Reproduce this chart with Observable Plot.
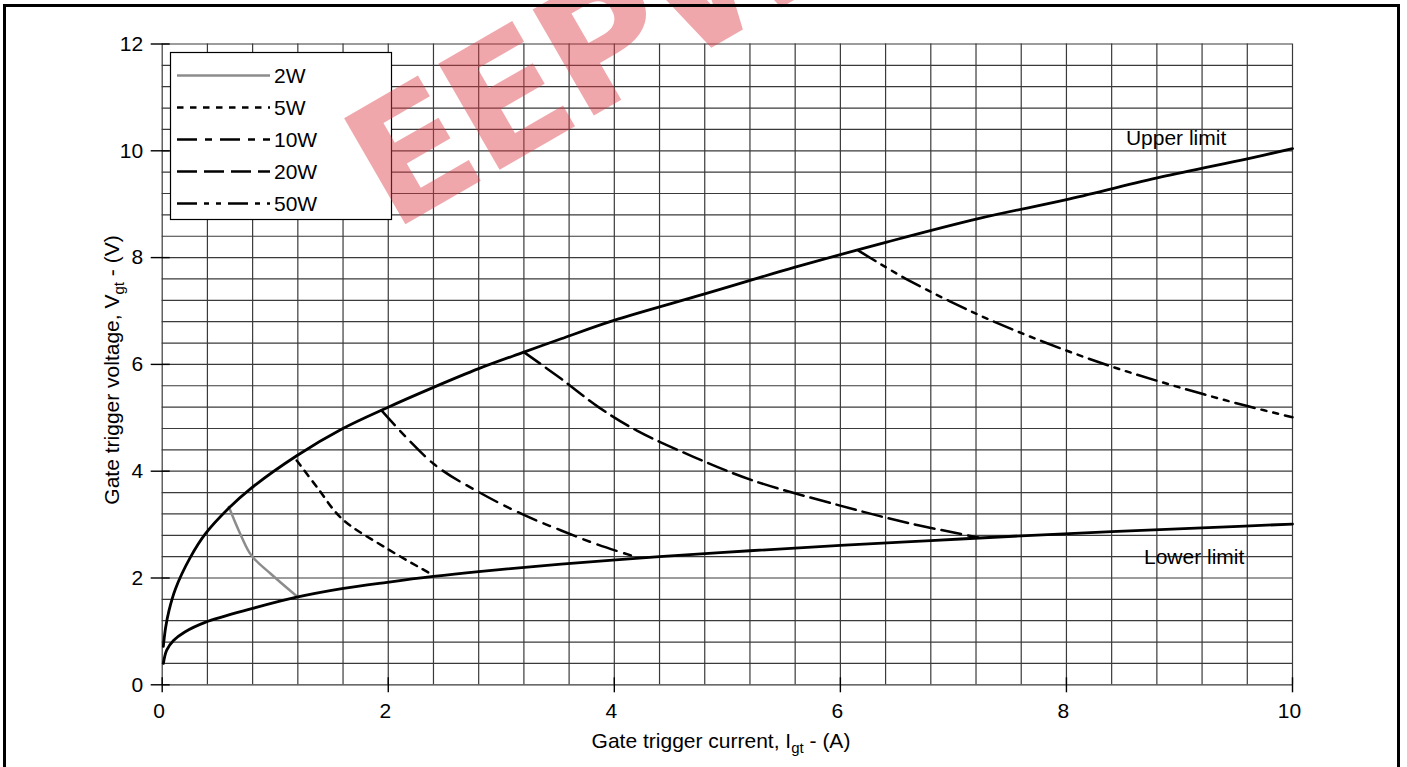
<!DOCTYPE html>
<html>
<head>
<meta charset="utf-8">
<script src="https://cdn.jsdelivr.net/npm/d3@7"></script>
<script src="https://cdn.jsdelivr.net/npm/@observablehq/plot@0.6"></script>
<style>
  body { margin: 0; background: #fff; }
  #wrap { position: relative; width: 1407px; height: 767px; overflow: hidden; background: #fff; }
  #frame { position: absolute; left: 2.7px; top: 4px; width: 1397.3px; height: 820px;
           border: 3.4px solid #000; border-bottom: none; box-sizing: border-box; pointer-events: none; }
  svg { display: block; }
</style>
</head>
<body>
<div id="wrap"><div id="frame"></div></div>
<script>
// ---------- data ----------
const currentTicks = [0, 2, 4, 6, 8, 10];
const voltageTicks = [0, 2, 4, 6, 8, 10, 12];
const currentGrid = d3.range(0, 10.0001, 0.4);
const voltageGrid = d3.range(0, 12.0001, 0.4);

// limit curves: gate trigger current (A) / voltage (V)
const upperI = [0.01, 0.03, 0.06, 0.118, 0.25, 0.383, 0.59, 0.78, 1.19, 1.59, 1.99, 2.40, 2.80, 3.20, 3.53, 3.99, 4.80, 5.60, 6.41, 7.22, 8.03, 8.84, 9.60, 10.0];
const upperV = [0.72, 1.07, 1.39, 1.80, 2.39, 2.83, 3.31, 3.67, 4.29, 4.79, 5.19, 5.57, 5.92, 6.23, 6.48, 6.82, 7.32, 7.82, 8.29, 8.73, 9.10, 9.51, 9.85, 10.04];
const lowerI = [0.01, 0.04, 0.10, 0.20, 0.38, 0.80, 1.19, 1.59, 1.99, 2.40, 2.80, 3.53, 4.40, 5.20, 6.00, 6.80, 7.60, 8.40, 9.20, 10.0];
const lowerV = [0.40, 0.65, 0.83, 0.99, 1.17, 1.43, 1.64, 1.80, 1.92, 2.03, 2.12, 2.26, 2.40, 2.51, 2.61, 2.70, 2.79, 2.87, 2.94, 3.01];

// power curves
const series = ["2W", "5W", "10W", "20W", "50W"];
const i2W  = [0.59, 0.69, 0.79, 0.96, 1.19];
const v2W  = [3.33, 2.83, 2.42, 2.08, 1.66];
const i5W  = [1.19, 1.37, 1.59, 1.99, 2.40];
const v5W  = [4.20, 3.70, 3.11, 2.55, 2.05];
const i10W = [1.94, 2.40, 2.80, 3.20, 3.53, 3.86, 4.20];
const v10W = [5.14, 4.14, 3.61, 3.18, 2.89, 2.62, 2.39];
const i20W = [3.20, 3.53, 3.86, 4.20, 4.70, 5.22, 5.99, 6.60, 7.22];
const v20W = [6.23, 5.73, 5.20, 4.76, 4.27, 3.83, 3.36, 3.03, 2.76];
const i50W = [6.16, 6.60, 7.20, 7.80, 8.40, 9.00, 9.60, 10.0];
const v50W = [8.13, 7.58, 6.95, 6.42, 5.96, 5.57, 5.22, 5.01];

const limitLabels = ["Upper limit", "Lower limit"];
const limitLabelI = [8.97, 9.13];
const limitLabelV = [10.23, 2.39];

// ---------- styles ----------
const seriesI = [i2W, i5W, i10W, i20W, i50W];
const seriesV = [v2W, v5W, v10W, v20W, v50W];
const seriesStroke = ["#8c8c8c", "#000", "#000", "#000", "#000"];
const seriesDash = [null, "6.5,6.5", "20,8,7,8", "20,7", "20,7,5,7,5,7"];
const FONT = "'Liberation Sans', Arial, Helvetica, sans-serif";

const toRows = (I, V) => I.map((x, j) => ({I: x, V: V[j]}));
const upperRows = toRows(upperI, upperV);
const lowerRows = toRows(lowerI, lowerV);
const labelRows = limitLabels.map((t, k) => ({t, I: limitLabelI[k], V: limitLabelV[k]}));

const powerMarks = series.map((s, k) =>
  Plot.line(toRows(seriesI[k], seriesV[k]), {
    x: "I", y: "V", curve: "catmull-rom",
    stroke: seriesStroke[k], strokeWidth: 2.5,
    strokeDasharray: seriesDash[k] ?? undefined
  })
);

const chart = Plot.plot({
  width: 1407, height: 767,
  marginLeft: 161.7, marginRight: 115, marginTop: 43.5, marginBottom: 82.7,
  x: {domain: [0, 10], label: null},
  y: {domain: [0, 12], label: null},
  style: {fontFamily: FONT, fontSize: "21px", color: "#000", background: "transparent", overflow: "visible"},
  marks: [
    Plot.gridX(currentGrid, {stroke: "#3a3a3a", strokeOpacity: 1, strokeWidth: 1.2}),
    Plot.gridY(voltageGrid, {stroke: "#3a3a3a", strokeOpacity: 1, strokeWidth: 1.2}),
    Plot.axisX(currentTicks, {tickSize: 15, dy: -7, tickFormat: () => "", label: null, strokeWidth: 1.4}),
    Plot.axisX(currentTicks, {tickSize: 0, tickPadding: 18, dx: -3, fontSize: 21, label: null, tickFormat: "d"}),
    Plot.axisY(voltageTicks, {tickSize: 19, dx: 8, tickFormat: () => "", label: null, strokeWidth: 1.4}),
    Plot.axisY(voltageTicks, {tickSize: 0, tickPadding: 19, fontSize: 21, label: null, tickFormat: "d"}),
    Plot.text(labelRows, {x: "I", y: "V", text: "t", fontSize: 21, fill: "#000", ariaLabel: "limit-label"}),
    ...powerMarks,
    Plot.line(upperRows, {x: "I", y: "V", curve: "catmull-rom", stroke: "#000", strokeWidth: 2.8}),
    Plot.line(lowerRows, {x: "I", y: "V", curve: "catmull-rom", stroke: "#000", strokeWidth: 2.8})
  ]
});

const wrap = document.getElementById("wrap");
wrap.insertBefore(chart, wrap.firstChild);
const svg = d3.select(chart);

// white boxes behind the limit labels
svg.selectAll('g[aria-label="limit-label"] text').each(function () {
  const b = this.getBBox();
  const r = document.createElementNS("http://www.w3.org/2000/svg", "rect");
  r.setAttribute("x", b.x - 10);
  r.setAttribute("y", b.y - 3);
  r.setAttribute("width", b.width + 18);
  r.setAttribute("height", b.height + 6);
  r.setAttribute("fill", "#fff");
  const tr = this.getAttribute("transform");
  if (tr) r.setAttribute("transform", tr);
  this.parentNode.insertBefore(r, this);
});

// axis titles with subscripts
const xt = svg.append("text").attr("x", 721).attr("y", 748).attr("text-anchor", "middle")
  .style("font-family", FONT).style("font-size", "21px").attr("fill", "#000");
xt.append("tspan").text("Gate trigger current, I");
xt.append("tspan").attr("dy", 5).style("font-size", "15px").text("gt");
xt.append("tspan").attr("dy", -5).text(" - (A)");

const yt = svg.append("text").attr("transform", "translate(119,370) rotate(-90)").attr("text-anchor", "middle")
  .style("font-family", FONT).style("font-size", "21px").attr("fill", "#000");
yt.append("tspan").text("Gate trigger voltage, V");
yt.append("tspan").attr("dy", 5).style("font-size", "15px").text("gt");
yt.append("tspan").attr("dy", -5).text(" - (V)");

// legend
const lg = svg.append("g");
lg.append("rect").attr("x", 170.5).attr("y", 52.5).attr("width", 221).attr("height", 167)
  .attr("fill", "#fff").attr("stroke", "#000").attr("stroke-width", 1.2);
series.forEach((s, k) => {
  const y = 75.5 + k * 32;
  lg.append("line").attr("x1", 177).attr("x2", 270).attr("y1", y).attr("y2", y)
    .attr("stroke", seriesStroke[k]).attr("stroke-width", 2.5)
    .attr("stroke-dasharray", seriesDash[k]);
  lg.append("text").attr("x", 274).attr("y", y).attr("dy", "0.36em").attr("text-anchor", "start")
    .style("font-family", FONT).style("font-size", "21px").attr("fill", "#000").text(s);
});

// watermark
svg.append("text").attr("transform", "translate(392,232) rotate(-30)").attr("text-anchor", "start")
  .style("font-family", "'DejaVu Sans', sans-serif").style("font-weight", "bold").style("font-size", "168px")
  .attr("fill", "#dc3c46").attr("fill-opacity", 0.45).attr("letter-spacing", -6).text("EEPW");
</script>
</body>
</html>
